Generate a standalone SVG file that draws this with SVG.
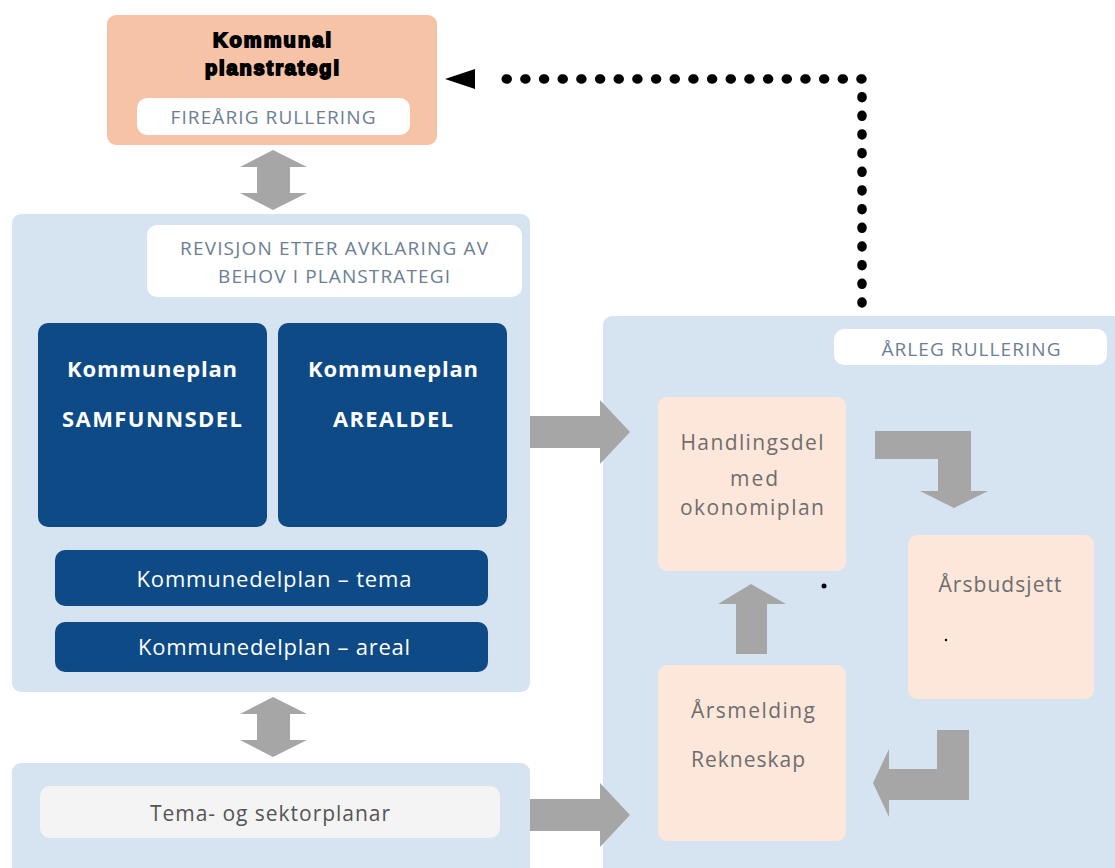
<svg xmlns="http://www.w3.org/2000/svg" width="1115" height="868" viewBox="0 0 1115 868">
<style>
.panel{fill:#d6e4f2}
.pill{fill:#ffffff}
.dark{fill:#0d4a86}
.peach{fill:#fde7da}
.arrow{fill:#a6a6a6}
.cap{font-family:"Open Sans","Liberation Sans",sans-serif;font-size:19px;fill:#6b7e94;text-anchor:middle}
.wb{font-family:"Open Sans","Liberation Sans",sans-serif;font-size:22px;font-weight:bold;fill:#ffffff;text-anchor:middle}
.wn{font-family:"Open Sans","Liberation Sans",sans-serif;font-size:22px;fill:#ffffff;text-anchor:middle}
.gt{font-family:"Open Sans","Liberation Sans",sans-serif;font-size:21px;fill:#6e6e6e}
.title{font-family:"Liberation Sans",Arial,sans-serif;font-size:20px;font-weight:bold;fill:#000;stroke:#000;stroke-width:1.8;text-anchor:middle}
.dots{fill:none;stroke:#000;stroke-width:9.5;stroke-linecap:round;stroke-dasharray:1 17.67}
</style>
<defs>
<marker id="head" markerUnits="userSpaceOnUse" markerWidth="60" markerHeight="30" refX="0" refY="15" orient="auto" overflow="visible">
<polygon points="14,5 44,15 14,25" fill="#000"/>
</marker>
</defs>

<g id="planstrategi">
<rect x="107" y="15" width="330" height="130" rx="9" fill="#f6c3a6"/>
<rect class="pill" x="137" y="98" width="273" height="37" rx="10"/>
<text class="title" x="272" y="47" textLength="118">Kommunal</text>
<text class="title" x="272" y="75" textLength="134">planstrategi</text>
<text class="cap" x="273" y="124" textLength="205">FIREÅRIG RULLERING</text>
</g>

<g id="kommuneplan-panel">
<rect class="panel" x="12" y="214" width="518" height="478" rx="9"/>
<rect class="pill" x="147" y="225" width="375" height="72" rx="10"/>
<text class="cap" x="334" y="255" textLength="308">REVISJON ETTER AVKLARING AV</text>
<text class="cap" x="334" y="283" textLength="232">BEHOV I PLANSTRATEGI</text>
</g>

<g id="samfunnsdel">
<rect class="dark" x="38" y="323" width="229" height="204" rx="10"/>
<text class="wb" x="152" y="377" textLength="170">Kommuneplan</text>
<text class="wb" x="152" y="427" textLength="180">SAMFUNNSDEL</text>
</g>

<g id="arealdel">
<rect class="dark" x="278" y="323" width="229" height="204" rx="10"/>
<text class="wb" x="393" y="377" textLength="170">Kommuneplan</text>
<text class="wb" x="393" y="427" textLength="120">AREALDEL</text>
</g>

<g id="kommunedelplan-tema">
<rect class="dark" x="55" y="550" width="433" height="56" rx="10"/>
<text class="wn" x="274" y="587" textLength="275">Kommunedelplan – tema</text>
</g>

<g id="kommunedelplan-areal">
<rect class="dark" x="55" y="622" width="433" height="50" rx="10"/>
<text class="wn" x="274" y="655" textLength="272">Kommunedelplan – areal</text>
</g>

<g id="tema-sektor">
<rect class="panel" x="12" y="763" width="518" height="120" rx="9"/>
<rect x="40" y="786" width="460" height="52" rx="10" fill="#f4f4f4"/>
<text class="gt" x="270" y="821" text-anchor="middle" textLength="240" style="fill:#555">Tema- og sektorplanar</text>
</g>

<g id="arleg-panel">
<rect class="panel" x="603" y="316" width="530" height="570" rx="9"/>
<rect class="pill" x="834" y="329" width="273" height="36" rx="10"/>
<text class="cap" x="971" y="356" textLength="179">ÅRLEG RULLERING</text>
</g>

<g id="handlingsdel">
<rect class="peach" x="658" y="397" width="188" height="174" rx="9"/>
<text class="gt" x="752" y="450" text-anchor="middle" textLength="143">Handlingsdel</text>
<text class="gt" x="754" y="486" text-anchor="middle" textLength="48">med</text>
<text class="gt" x="752" y="515" text-anchor="middle" textLength="144">okonomiplan</text>
</g>

<g id="arsbudsjett">
<rect class="peach" x="908" y="535" width="186" height="164" rx="9"/>
<text class="gt" x="1000" y="592" text-anchor="middle" textLength="123">Årsbudsjett</text>
</g>

<g id="arsmelding">
<rect class="peach" x="658" y="665" width="188" height="176" rx="9"/>
<text class="gt" x="691" y="718" textLength="124">Årsmelding</text>
<text class="gt" x="691" y="767" textLength="114">Rekneskap</text>
</g>

<g id="connectors">
<polygon class="arrow" points="273,150 307,167 290,167 290,193 307,193 273,210 240,193 257,193 257,167 240,167"/>
<polygon class="arrow" points="273,697 307,714 290,714 290,740 307,740 273,757 240,740 257,740 257,714 240,714"/>
<polygon class="arrow" points="530,416 600,416 600,400 630,432 600,464 600,448 530,448"/>
<polygon class="arrow" points="530,799 600,799 600,783 630,815 600,847 600,831 530,831"/>
<polygon class="arrow" points="875,431 971,431 971,491 988,491 954,508 920,491 938,491 938,459 875,459"/>
<polygon class="arrow" points="969,730 969,800 889,800 889,817 873,783 889,749 889,769 937,769 937,730"/>
<polygon class="arrow" points="751,584 786,604 767,604 767,654 736,654 736,604 718,604"/>
<path class="dots" d="M862,303 V79 H489" marker-end="url(#head)"/>
<circle cx="824" cy="586" r="2.5" fill="#000"/>
<circle cx="946" cy="640" r="1.2" fill="#000"/>
</g>
</svg>
